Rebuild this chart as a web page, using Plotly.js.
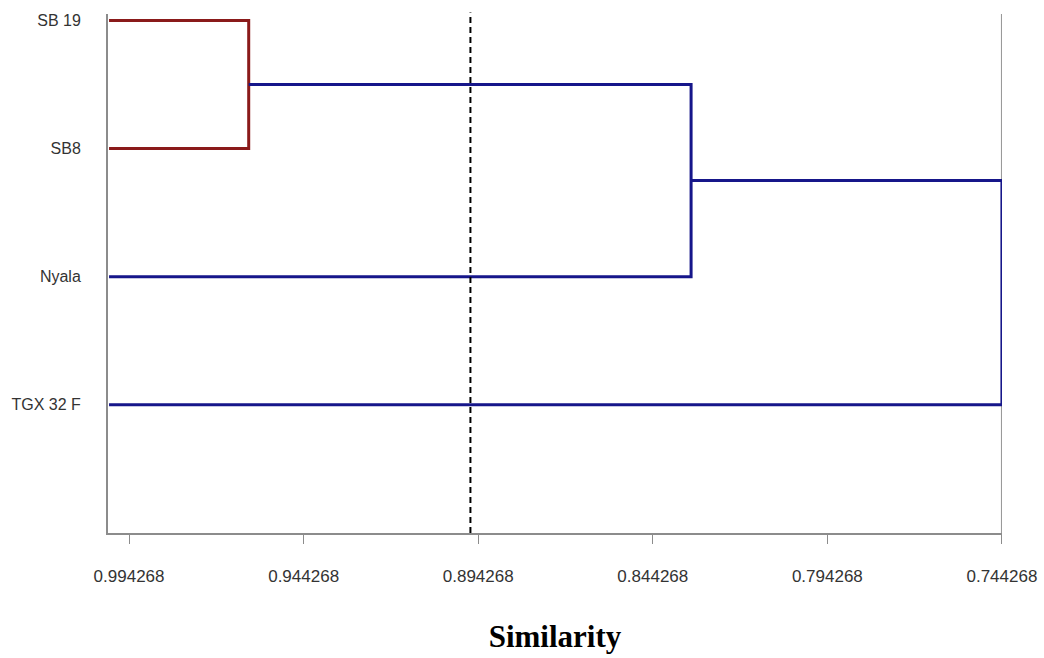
<!DOCTYPE html>
<html>
<head>
<meta charset="utf-8">
<script src="https://cdn.plot.ly/plotly-3.0.1.min.js"></script>
<style>
  html, body { margin: 0; padding: 0; background: #ffffff; }
  #chart { width: 1044px; height: 658px; }
</style>
</head>
<body>
<div id="chart"></div>
<script>
// Cultivars (leaves), listed top to bottom, with their row positions
const leafNames = ['SB 19', 'SB8', 'Nyala', 'TGX 32 F'];
const leafRows = [4, 3, 2, 1];
const leafSimilarity = 1.0;

// Agglomeration steps: which leaves/clusters join and at what similarity
const joinSimilarity = [0.96, 0.8333, 0.744268];
const cutoffSimilarity = 0.8965;

// Axis ticks
const tickValues = [0.994268, 0.944268, 0.894268, 0.844268, 0.794268, 0.744268];
const tickLabels = ['0.994268', '0.944268', '0.894268', '0.844268', '0.794268', '0.744268'];

const RED = '#8a1a1a';
const NAVY = '#16168a';

// Cluster 1: SB 19 + SB8
const c1Row = (leafRows[0] + leafRows[1]) / 2;
const redX = [leafSimilarity, joinSimilarity[0], joinSimilarity[0], leafSimilarity];
const redY = [leafRows[0], leafRows[0], leafRows[1], leafRows[1]];

// Cluster 2: cluster 1 + Nyala
const c2Row = (c1Row + leafRows[2]) / 2;
// Cluster 3: cluster 2 + TGX 32 F
const blueX = [
  joinSimilarity[0], joinSimilarity[1], joinSimilarity[1], leafSimilarity, null,
  joinSimilarity[1], joinSimilarity[2], joinSimilarity[2], leafSimilarity
];
const blueY = [
  c1Row, c1Row, leafRows[2], leafRows[2], null,
  c2Row, c2Row, leafRows[3], leafRows[3]
];

const traces = [
  {
    x: redX, y: redY, type: 'scatter', mode: 'lines',
    line: { color: RED, width: 3, shape: 'linear' },
    hoverinfo: 'skip', showlegend: false
  },
  {
    x: blueX, y: blueY, type: 'scatter', mode: 'lines',
    line: { color: NAVY, width: 3, shape: 'linear' },
    hoverinfo: 'skip', showlegend: false
  }
];

const LABEL_FONT_X = { family: '"Liberation Sans", Arial, sans-serif', size: 17, color: '#333333' };
const LABEL_FONT_Y = { family: '"Liberation Sans", Arial, sans-serif', size: 16, color: '#333333' };

const layout = {
  width: 1044,
  height: 658,
  margin: { l: 108, r: 42, t: 14, b: 125 },
  paper_bgcolor: '#ffffff',
  plot_bgcolor: '#ffffff',
  showlegend: false,
  xaxis: {
    range: [1.0003, 0.74425],
    tickvals: tickValues,
    ticktext: tickLabels,
    ticks: 'outside',
    ticklen: 9,
    tickwidth: 1,
    tickcolor: '#8c8c8c',
    ticklabelstandoff: 18,
    showline: true,
    linecolor: '#8c8c8c',
    linewidth: 2,
    showgrid: false,
    zeroline: false,
    tickfont: LABEL_FONT_X,
    title: {
      text: 'Similarity',
      standoff: 40,
      font: { family: '"Liberation Serif", "Times New Roman", serif', size: 31, color: '#000000', weight: 'bold' }
    }
  },
  yaxis: {
    range: [0, 4.05],
    tickvals: leafRows,
    ticktext: leafNames,
    ticks: '',
    ticklabelstandoff: 22,
    showline: true,
    linecolor: '#8c8c8c',
    linewidth: 2,
    showgrid: false,
    zeroline: false,
    tickfont: LABEL_FONT_Y
  },
  shapes: [
    // right-hand frame line at the last tick
    {
      type: 'line', xref: 'x', yref: 'paper',
      x0: tickValues[tickValues.length - 1], x1: tickValues[tickValues.length - 1],
      y0: 0, y1: 1,
      line: { color: '#9a9a9a', width: 2 }, layer: 'below'
    },
    // similarity cut-off
    {
      type: 'line', xref: 'x', yref: 'paper',
      x0: cutoffSimilarity, x1: cutoffSimilarity, y0: 0, y1: 1.003,
      line: { color: '#000000', width: 2, dash: '6px,4px' }, layer: 'above'
    }
  ]
};

Plotly.newPlot('chart', traces, layout, { staticPlot: true, displayModeBar: false });
</script>
</body>
</html>
